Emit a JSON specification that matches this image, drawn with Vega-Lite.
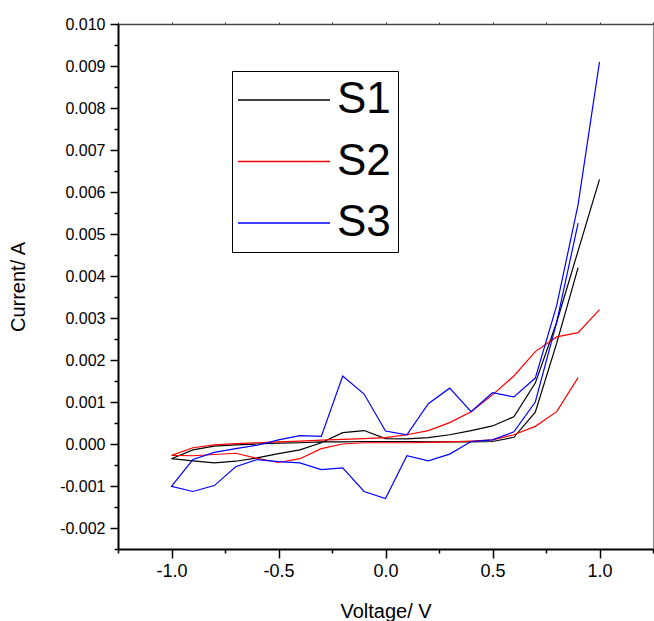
{
  "$schema": "https://vega.github.io/schema/vega-lite/v6.json",
  "width": 535,
  "height": 525,
  "autosize": "none",
  "padding": {"left": 118, "top": 24, "right": 1, "bottom": 72},
  "background": "white",
  "config": {
    "view": {"stroke": "#888888", "strokeWidth": 1},
    "axis": {"grid": false}
  },
  "data": {"values": [
    {"s":"S1","o":0,"v":0.9,"i":0.0042},{"s":"S1","o":1,"v":0.8,"i":0.0024},{"s":"S1","o":2,"v":0.7,"i":0.00076},{"s":"S1","o":3,"v":0.6,"i":0.00016},{"s":"S1","o":4,"v":0.5,"i":0.00006},{"s":"S1","o":5,"v":0.4,"i":0.00005},{"s":"S1","o":6,"v":0.3,"i":0.00005},{"s":"S1","o":7,"v":0.2,"i":0.00005},{"s":"S1","o":8,"v":0.1,"i":0.00006},{"s":"S1","o":9,"v":0.0,"i":0.00006},{"s":"S1","o":10,"v":-0.1,"i":0.00006},{"s":"S1","o":11,"v":-0.2,"i":0.00005},{"s":"S1","o":12,"v":-0.3,"i":0.00005},{"s":"S1","o":13,"v":-0.4,"i":0.00003},{"s":"S1","o":14,"v":-0.5,"i":0.00002},{"s":"S1","o":15,"v":-0.6,"i":0.0},{"s":"S1","o":16,"v":-0.7,"i":-0.00002},{"s":"S1","o":17,"v":-0.8,"i":-0.00005},{"s":"S1","o":18,"v":-0.9,"i":-0.00014},{"s":"S1","o":19,"v":-1.0,"i":-0.00035},
    {"s":"S1","o":20,"v":-0.9,"i":-0.0004},{"s":"S1","o":21,"v":-0.8,"i":-0.00045},{"s":"S1","o":22,"v":-0.7,"i":-0.00041},{"s":"S1","o":23,"v":-0.6,"i":-0.00033},{"s":"S1","o":24,"v":-0.5,"i":-0.00023},{"s":"S1","o":25,"v":-0.4,"i":-0.00014},{"s":"S1","o":26,"v":-0.3,"i":0.00003},{"s":"S1","o":27,"v":-0.2,"i":0.00027},{"s":"S1","o":28,"v":-0.1,"i":0.00032},{"s":"S1","o":29,"v":0.0,"i":0.00013},{"s":"S1","o":30,"v":0.1,"i":0.00012},{"s":"S1","o":31,"v":0.2,"i":0.00015},{"s":"S1","o":32,"v":0.3,"i":0.00022},{"s":"S1","o":33,"v":0.4,"i":0.00032},{"s":"S1","o":34,"v":0.5,"i":0.00043},{"s":"S1","o":35,"v":0.6,"i":0.00065},{"s":"S1","o":36,"v":0.7,"i":0.00145},{"s":"S1","o":37,"v":0.8,"i":0.0029},{"s":"S1","o":38,"v":0.9,"i":0.0046},{"s":"S1","o":39,"v":1.0,"i":0.0063},
    {"s":"S2","o":0,"v":0.9,"i":0.00158},{"s":"S2","o":1,"v":0.8,"i":0.00077},{"s":"S2","o":2,"v":0.7,"i":0.00042},{"s":"S2","o":3,"v":0.6,"i":0.00022},{"s":"S2","o":4,"v":0.5,"i":0.0001},{"s":"S2","o":5,"v":0.4,"i":0.00007},{"s":"S2","o":6,"v":0.3,"i":0.00005},{"s":"S2","o":7,"v":0.2,"i":0.00004},{"s":"S2","o":8,"v":0.1,"i":0.00003},{"s":"S2","o":9,"v":0.0,"i":0.00003},{"s":"S2","o":10,"v":-0.1,"i":0.00003},{"s":"S2","o":11,"v":-0.2,"i":0.0},{"s":"S2","o":12,"v":-0.3,"i":-0.00011},{"s":"S2","o":13,"v":-0.4,"i":-0.00035},{"s":"S2","o":14,"v":-0.5,"i":-0.00044},{"s":"S2","o":15,"v":-0.6,"i":-0.00034},{"s":"S2","o":16,"v":-0.7,"i":-0.00022},{"s":"S2","o":17,"v":-0.8,"i":-0.00025},{"s":"S2","o":18,"v":-0.9,"i":-0.00028},{"s":"S2","o":19,"v":-1.0,"i":-0.00027},
    {"s":"S2","o":20,"v":-0.9,"i":-0.00009},{"s":"S2","o":21,"v":-0.8,"i":-0.00002},{"s":"S2","o":22,"v":-0.7,"i":0.00001},{"s":"S2","o":23,"v":-0.6,"i":0.00003},{"s":"S2","o":24,"v":-0.5,"i":0.00005},{"s":"S2","o":25,"v":-0.4,"i":0.00007},{"s":"S2","o":26,"v":-0.3,"i":0.00009},{"s":"S2","o":27,"v":-0.2,"i":0.00011},{"s":"S2","o":28,"v":-0.1,"i":0.00013},{"s":"S2","o":29,"v":0.0,"i":0.00015},{"s":"S2","o":30,"v":0.1,"i":0.00022},{"s":"S2","o":31,"v":0.2,"i":0.00032},{"s":"S2","o":32,"v":0.3,"i":0.00051},{"s":"S2","o":33,"v":0.4,"i":0.00077},{"s":"S2","o":34,"v":0.5,"i":0.00117},{"s":"S2","o":35,"v":0.6,"i":0.00162},{"s":"S2","o":36,"v":0.7,"i":0.0022},{"s":"S2","o":37,"v":0.8,"i":0.00255},{"s":"S2","o":38,"v":0.9,"i":0.00265},{"s":"S2","o":39,"v":1.0,"i":0.0032},
    {"s":"S3","o":0,"v":0.9,"i":0.00526},{"s":"S3","o":1,"v":0.8,"i":0.0029},{"s":"S3","o":2,"v":0.7,"i":0.001},{"s":"S3","o":3,"v":0.6,"i":0.00029},{"s":"S3","o":4,"v":0.5,"i":0.0001},{"s":"S3","o":5,"v":0.4,"i":0.00006},{"s":"S3","o":6,"v":0.3,"i":-0.00024},{"s":"S3","o":7,"v":0.2,"i":-0.0004},{"s":"S3","o":8,"v":0.1,"i":-0.00028},{"s":"S3","o":9,"v":0.0,"i":-0.0013},{"s":"S3","o":10,"v":-0.1,"i":-0.00113},{"s":"S3","o":11,"v":-0.2,"i":-0.00057},{"s":"S3","o":12,"v":-0.3,"i":-0.00061},{"s":"S3","o":13,"v":-0.4,"i":-0.00045},{"s":"S3","o":14,"v":-0.5,"i":-0.00042},{"s":"S3","o":15,"v":-0.6,"i":-0.00037},{"s":"S3","o":16,"v":-0.7,"i":-0.00054},{"s":"S3","o":17,"v":-0.8,"i":-0.00099},{"s":"S3","o":18,"v":-0.9,"i":-0.00113},{"s":"S3","o":19,"v":-1.0,"i":-0.00101},
    {"s":"S3","o":20,"v":-0.9,"i":-0.00037},{"s":"S3","o":21,"v":-0.8,"i":-0.0002},{"s":"S3","o":22,"v":-0.7,"i":-0.00011},{"s":"S3","o":23,"v":-0.6,"i":-0.00003},{"s":"S3","o":24,"v":-0.5,"i":0.0001},{"s":"S3","o":25,"v":-0.4,"i":0.0002},{"s":"S3","o":26,"v":-0.3,"i":0.00018},{"s":"S3","o":27,"v":-0.2,"i":0.00162},{"s":"S3","o":28,"v":-0.1,"i":0.00119},{"s":"S3","o":29,"v":0.0,"i":0.00031},{"s":"S3","o":30,"v":0.1,"i":0.00022},{"s":"S3","o":31,"v":0.2,"i":0.00096},{"s":"S3","o":32,"v":0.3,"i":0.00133},{"s":"S3","o":33,"v":0.4,"i":0.00077},{"s":"S3","o":34,"v":0.5,"i":0.00122},{"s":"S3","o":35,"v":0.6,"i":0.00112},{"s":"S3","o":36,"v":0.7,"i":0.00157},{"s":"S3","o":37,"v":0.8,"i":0.0033},{"s":"S3","o":38,"v":0.9,"i":0.0057},{"s":"S3","o":39,"v":1.0,"i":0.0091}
  ]},
  "encoding": {
    "y": {
      "field": "i", "type": "quantitative",
      "scale": {"domain": [-0.0025, 0.01], "nice": false, "zero": false},
      "axis": {
        "title": "Current/ A",
        "titleFont": "Liberation Sans", "titleFontSize": 20, "titleFontWeight": "normal", "titleColor": "black",
        "titlePadding": 31,
        "values": [-0.0025,-0.002,-0.0015,-0.001,-0.0005,0,0.0005,0.001,0.0015,0.002,0.0025,0.003,0.0035,0.004,0.0045,0.005,0.0055,0.006,0.0065,0.007,0.0075,0.008,0.0085,0.009,0.0095,0.01],
        "labelExpr": "abs(datum.value*1000 - round(datum.value*1000)) < 0.1 ? (datum.value < -0.0000001 ? '-' : '') + format(abs(datum.value), '.3f') : ''",
        "labelFont": "Liberation Sans", "labelFontSize": 16, "labelColor": "black",
        "labelPadding": 5,
        "labelOverlap": false,
        "labelFlush": false,
        "tickSize": {"condition": {"test": "abs(datum.value*1000 - round(datum.value*1000)) < 0.1", "value": 8}, "value": 4},
        "tickColor": "black", "tickWidth": 1.5,
        "domainColor": "black", "domainWidth": 2
      }
    }
  },
  "layer": [
    {
      "mark": {"type": "line", "strokeWidth": 1.2},
      "encoding": {
        "x": {
          "field": "v", "type": "quantitative",
          "scale": {"domain": [-1.25, 1.25], "nice": false, "zero": false},
          "axis": {
            "title": "Voltage/ V",
            "titleFont": "Liberation Sans", "titleFontSize": 20, "titleFontWeight": "normal", "titleColor": "black",
            "titlePadding": 21,
            "values": [-1.25,-1,-0.75,-0.5,-0.25,0,0.25,0.5,0.75,1,1.25],
            "labelExpr": "datum.value % 0.5 == 0 ? (datum.value < 0 ? '-' : '') + format(abs(datum.value), '.1f') : ''",
            "labelFont": "Liberation Sans", "labelFontSize": 18, "labelColor": "black",
            "labelPadding": 4,
            "labelOverlap": false,
            "labelFlush": false,
            "tickSize": {"condition": {"test": "datum.value % 0.5 == 0", "value": 9}, "value": 4},
            "tickColor": "black", "tickWidth": 1.5,
            "domainColor": "black", "domainWidth": 2
          }
        },
        "color": {
          "field": "s", "type": "nominal",
          "scale": {"domain": ["S1", "S2", "S3"], "range": ["#000000", "#ff0000", "#0000ff"]},
          "legend": {
            "title": null,
            "orient": "none",
            "legendX": 114,
            "legendY": 47,
            "symbolType": "M-2,0H6",
            "symbolSize": 529,
            "symbolStrokeWidth": 1.3,
            "labelFont": "Liberation Sans",
            "labelFontSize": 44,
            "labelColor": "black",
            "labelOffset": 54,
            "rowPadding": 17.5,
            "padding": 7,
            "strokeColor": "black",
            "fillColor": "white"
          }
        },
        "order": {"field": "o", "type": "quantitative"}
      }
    },
    {
      "mark": {"type": "point", "opacity": 0},
      "encoding": {
        "x": {
          "field": "v", "type": "quantitative",
          "axis": {
            "orient": "top",
            "title": null,
            "labels": false,
            "values": [-1.25,-1,-0.75,-0.5,-0.25,0,0.25,0.5,0.75,1,1.25],
            "tickSize": 2,
            "tickColor": "#333333",
            "domainColor": "#444444",
            "domainWidth": 1.5
          }
        }
      }
    }
  ],
  "resolve": {"axis": {"x": "independent"}}
}
